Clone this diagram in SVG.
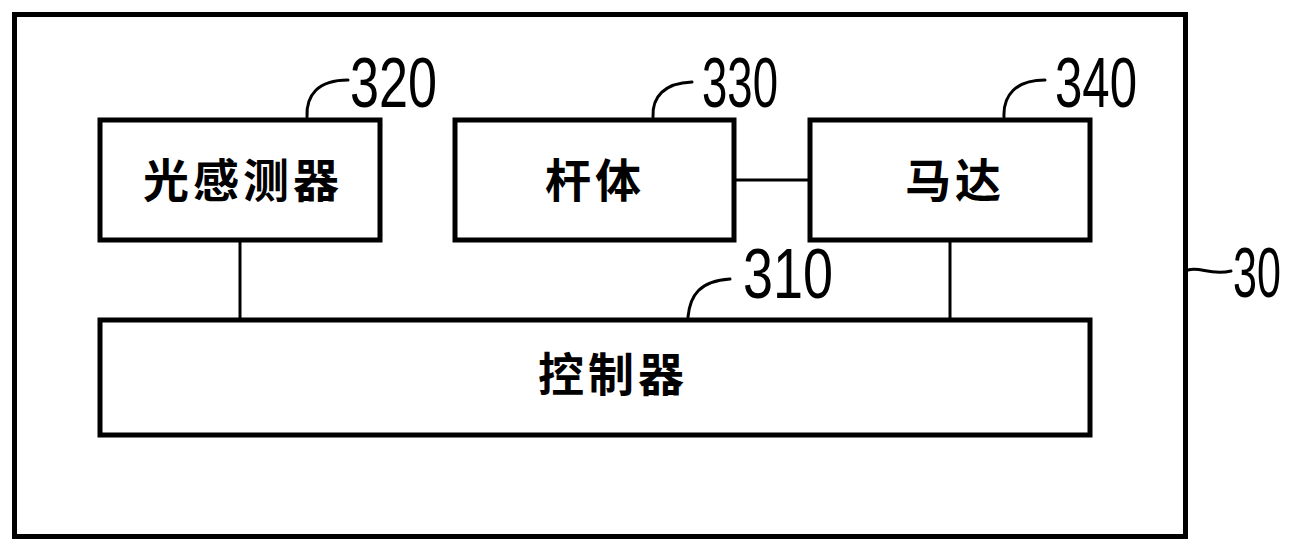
<svg xmlns="http://www.w3.org/2000/svg" width="1298" height="548" viewBox="0 0 1298 548">
<style>
.box{fill:#fff;stroke:#000;stroke-width:5}
.ln{fill:none;stroke:#000;stroke-width:3}
.ld{fill:none;stroke:#000;stroke-width:3;stroke-linecap:round}
.cn{font-family:"Noto Sans CJK SC",sans-serif;font-size:46px;font-weight:bold;letter-spacing:4px;fill:#000}
.num{font-family:"Liberation Sans Narrow","Liberation Sans",sans-serif;font-size:70px;fill:#000}
</style>
<rect width="1298" height="548" fill="#fff"/>
<g id="n30">
<rect class="box" x="14.5" y="14.5" width="1171" height="522"/>
<path class="ld" d="M1188,270 C1200,266 1210,276 1231,271"/>
<text class="num" transform="translate(1233,297) scale(0.615,1)" x="0" y="0">30</text>
</g>
<g id="connectors">
<line class="ln" x1="240" y1="240" x2="240" y2="320"/>
<line class="ln" x1="950" y1="240" x2="950" y2="320"/>
<line class="ln" x1="734" y1="180" x2="810" y2="180"/>
</g>
<g id="n320">
<rect class="box" x="100" y="120" width="280" height="120"/>
<text class="cn" x="143" y="197">光感测器</text>
<path class="ld" d="M307,117 C306,95 318,80 348,80"/>
<text class="num" x="350" y="107" textLength="87" lengthAdjust="spacingAndGlyphs">320</text>
</g>
<g id="n330">
<rect class="box" x="455" y="120" width="279" height="120"/>
<text class="cn" x="545" y="197">杆体</text>
<path class="ld" d="M653,117 C652,97 664,83 692,82"/>
<text class="num" x="702" y="107" textLength="76" lengthAdjust="spacingAndGlyphs">330</text>
</g>
<g id="n340">
<rect class="box" x="810" y="120" width="280" height="120"/>
<text class="cn" x="905" y="197">马达</text>
<path class="ld" d="M1004,117 C1003,95 1016,80 1045,80"/>
<text class="num" x="1055" y="107" textLength="82" lengthAdjust="spacingAndGlyphs">340</text>
</g>
<g id="n310">
<rect class="box" x="100" y="320" width="990" height="115"/>
<text class="cn" x="538" y="391">控制器</text>
<path class="ld" d="M688,317 C690,295 700,281 730,279"/>
<text class="num" x="743" y="298" textLength="90" lengthAdjust="spacingAndGlyphs">310</text>
</g>
</svg>
